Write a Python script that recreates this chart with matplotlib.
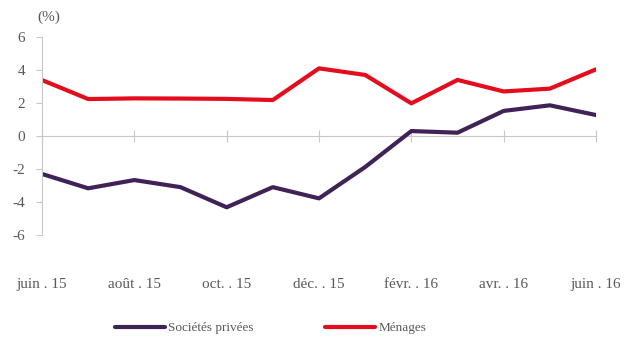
import matplotlib
matplotlib.use("Agg")
import matplotlib.pyplot as plt

# monthly series, june 2015 -> june 2016
months = ['juin . 15', 'juil. . 15', 'août . 15', 'sept. . 15', 'oct. . 15', 'nov. . 15',
          'déc. . 15', 'janv. . 16', 'févr. . 16', 'mars . 16', 'avr. . 16', 'mai . 16', 'juin . 16']
societes = [-2.3, -3.17, -2.67, -3.1, -4.32, -3.1, -3.78, -1.88, 0.3, 0.2, 1.52, 1.86, 1.27]
menages = [3.39, 2.24, 2.28, 2.27, 2.25, 2.18, 4.1, 3.7, 1.98, 3.4, 2.7, 2.87, 4.04]
yticks = [-6, -4, -2, 0, 2, 4, 6]

plt.rcParams['font.family'] = ['Liberation Serif', 'DejaVu Serif']
grey = '#595959'
axis_col = '#C8C8C8'

fig = plt.figure(figsize=(6.34, 3.45), dpi=100)
ax = fig.add_axes([42/634, 1 - 235/345, (596 - 42)/634, 198/345])

x = list(range(len(months)))
ax.plot(x, societes, color='#3F2356', lw=3, label='Sociétés privées', solid_capstyle='round')
ax.plot(x, menages, color='#E30D1E', lw=3, label='Ménages', solid_capstyle='round')

ax.set_xlim(0, len(months) - 1)
ax.set_ylim(-6, 6)
ax.set_yticks(yticks)
ax.set_yticklabels([str(v) for v in yticks])
ax.set_xticks(x[::2])
ax.set_xticklabels(months[::2])

for s in ['top', 'right']:
    ax.spines[s].set_visible(False)
ax.spines['bottom'].set_position(('data', 0))
ax.spines['bottom'].set_color(axis_col)
ax.spines['left'].set_color(axis_col)
ax.spines['bottom'].set_zorder(0)

ax.tick_params(axis='y', colors=axis_col, labelcolor=grey, labelsize=11, length=4, pad=8)
ax.tick_params(axis='x', colors=axis_col, labelcolor=grey, labelsize=11,
               direction='inout', length=8, pad=98)

fig.text(37/634, 1 - 17/345, '(%)', color=grey, fontsize=11, va='center')

fig.legend(loc='center', bbox_to_anchor=(0.427, 1 - 328/345), ncol=2, frameon=False,
           fontsize=9.5, handlelength=3.8, handletextpad=0.25, columnspacing=5.4,
           labelcolor=grey)

fig.savefig('out.png', dpi=100)
